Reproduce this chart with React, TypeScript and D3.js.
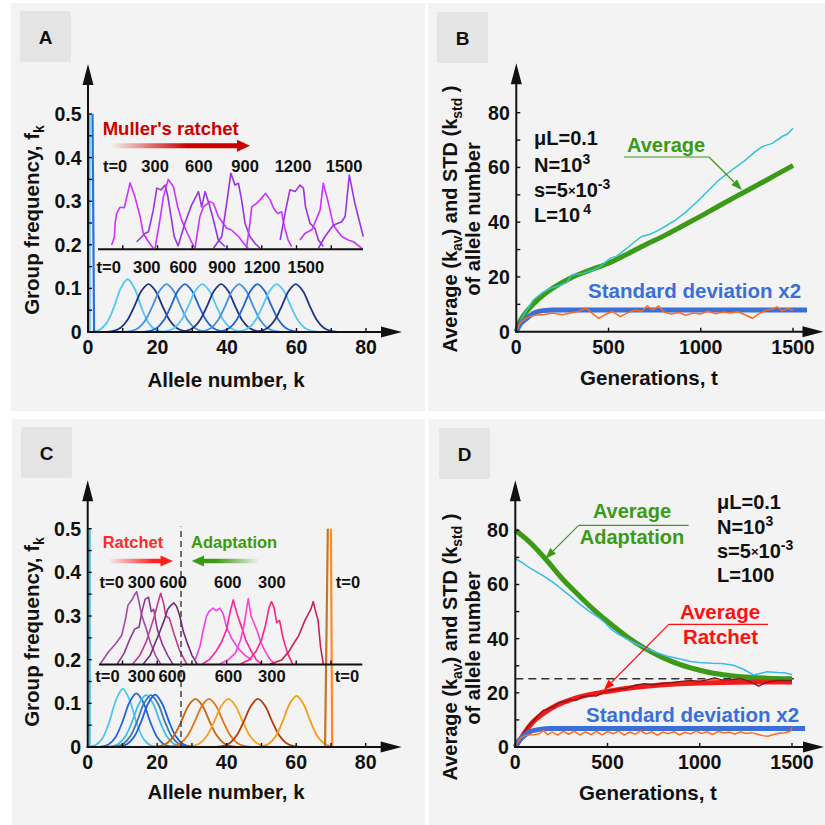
import React from 'react';
import * as d3 from 'd3';

const FONT = "'Liberation Sans', Arial, Helvetica, sans-serif";

// ---------------- Panel A data ----------------
const A_Y_TICKS = [0, 0.1, 0.2, 0.3, 0.4, 0.5];
const A_Y_MINOR = [0.05, 0.1, 0.15, 0.2, 0.25, 0.3, 0.35, 0.4, 0.45, 0.5];
const A_X_TICKS = [0, 20, 40, 60, 80];
const A_X_MINOR = [10, 20, 30, 40, 50, 60, 70, 80];
const INSET_TICKS = [10, 20, 30, 40, 50, 60, 70];

const DIST_OFFSETS = [-12, -10, -8, -6, -4, -2, 0, 2, 4, 6, 8, 10, 12];
const A_DIST_CENTERS = [11.4, 17.4, 22.6, 27.9, 32.9, 38.3, 43.5, 48.8, 54.3, 59.8];
const A_DIST_COLORS = ['#55c6f4', '#1d3582', '#4590e4', '#2264d4', '#55c6f4', '#1d3582', '#4590e4', '#2264d4', '#55c6f4', '#1d3582'];
const A_DIST_F = [
  [0.0001, 0.0009, 0.0053, 0.0209, 0.0554, 0.0996, 0.121, 0.0996, 0.0554, 0.0209, 0.0053, 0.0009, 0.0001],
  [0.0004, 0.0025, 0.0097, 0.028, 0.06, 0.0945, 0.11, 0.0945, 0.06, 0.028, 0.0097, 0.0025, 0.0004],
  [0.0004, 0.0025, 0.0097, 0.028, 0.06, 0.0945, 0.11, 0.0945, 0.06, 0.028, 0.0097, 0.0025, 0.0004],
  [0.0004, 0.0025, 0.0097, 0.028, 0.06, 0.0945, 0.11, 0.0945, 0.06, 0.028, 0.0097, 0.0025, 0.0004],
  [0.0004, 0.0025, 0.0097, 0.028, 0.06, 0.0945, 0.11, 0.0945, 0.06, 0.028, 0.0097, 0.0025, 0.0004],
  [0.0004, 0.0025, 0.0097, 0.028, 0.06, 0.0945, 0.11, 0.0945, 0.06, 0.028, 0.0097, 0.0025, 0.0004],
  [0.0004, 0.0025, 0.0097, 0.028, 0.06, 0.0945, 0.11, 0.0945, 0.06, 0.028, 0.0097, 0.0025, 0.0004],
  [0.0004, 0.0025, 0.0097, 0.028, 0.06, 0.0945, 0.11, 0.0945, 0.06, 0.028, 0.0097, 0.0025, 0.0004],
  [0.0004, 0.0025, 0.0097, 0.028, 0.06, 0.0945, 0.11, 0.0945, 0.06, 0.028, 0.0097, 0.0025, 0.0004],
  [0.0004, 0.0025, 0.0097, 0.028, 0.06, 0.0945, 0.11, 0.0945, 0.06, 0.028, 0.0097, 0.0025, 0.0004],
];
const A_SPIKE_K = [[0.45, 0.45], [1.3, 1.75]];
const A_SPIKE_F = [[0, 0.5], [0.5, 0]];
const A_SPIKE_COLORS = ['#4cc4f4', '#2a6ee0'];

const A_INSET_K = [
  [6.8, 7.6, 7.8, 8.25, 9.2, 10.45, 12.1, 13.5, 15.0, 15.9, 17.4, 18.8],
  [14.0, 16.4, 17.4, 18.8, 19.8, 21.0, 22.2, 22.9, 23.9, 24.8, 26.0],
  [19.3, 20.7, 21.7, 23.1, 24.6, 25.8, 27.1, 28.4, 30.0, 30.8],
  [26.0, 27.9, 29.8, 31.8, 32.7, 33.7, 34.8, 36.1, 37.5, 39.4],
  [30.8, 32.2, 33.2, 35.1, 36.1, 37.5, 38.9, 39.9, 41.3, 43.3, 45.2, 46.1],
  [36.1, 38.5, 39.9, 41.1, 42.3, 43.3, 44.2, 45.2, 46.6, 48.1, 49.5],
  [45.6, 46.6, 47.1, 48.5, 49.5, 51.1, 52.4, 53.4, 54.6, 55.7, 56.5, 57.6, 58.6],
  [55.3, 56.7, 58.1, 59.6, 61.0, 62.0, 62.6, 63.9, 65.3, 66.3, 67.7],
  [61.0, 62.4, 64.5, 66.8, 67.7, 69.2, 70.6, 73.0, 74.9, 76.4, 78.8],
  [66.3, 68.2, 70.6, 73.0, 74.0, 75.2, 76.8, 79.2],
];
const A_INSET_F = [
  [0.1995, 0.218, 0.249, 0.272, 0.286, 0.285, 0.342, 0.31, 0.265, 0.226, 0.207, 0.192],
  [0.207, 0.226, 0.23, 0.28, 0.33, 0.326, 0.337, 0.314, 0.265, 0.219, 0.196],
  [0.192, 0.257, 0.31, 0.35, 0.333, 0.287, 0.253, 0.23, 0.203, 0.192],
  [0.199, 0.25, 0.291, 0.322, 0.287, 0.322, 0.295, 0.257, 0.211, 0.196],
  [0.192, 0.265, 0.287, 0.299, 0.295, 0.265, 0.249, 0.238, 0.234, 0.219, 0.1995, 0.192],
  [0.192, 0.219, 0.295, 0.364, 0.337, 0.341, 0.303, 0.249, 0.219, 0.203, 0.192],
  [0.192, 0.249, 0.287, 0.295, 0.303, 0.318, 0.303, 0.284, 0.272, 0.276, 0.242, 0.211, 0.196],
  [0.211, 0.272, 0.326, 0.322, 0.337, 0.33, 0.287, 0.249, 0.238, 0.211, 0.196],
  [0.211, 0.226, 0.235, 0.28, 0.341, 0.295, 0.245, 0.219, 0.211, 0.207, 0.192],
  [0.192, 0.219, 0.245, 0.253, 0.265, 0.36, 0.295, 0.219],
];
const A_INSET_COLORS = ['#cc33ff', '#9933e6', '#cc33ff', '#9933e6', '#cc33ff', '#9933e6', '#cc33ff', '#9933e6', '#cc33ff', '#9933e6'];
const A_TOP_LABELS = ['t=0', '300', '600', '900', '1200', '1500'];
const A_TOP_LABEL_K = [7.8, 19.3, 31.9, 45.2, 59.0, 73.7];
const A_BOT_LABELS = ['t=0', '300', '600', '900', '1200', '1500'];
const A_BOT_LABEL_K = [5.96, 16.9, 27.4, 38.6, 50.1, 62.7];

// ---------------- Panel B data ----------------
const T_TICKS = [0, 500, 1000, 1500];
const V_TICKS = [0, 20, 40, 60, 80];
const V_MINOR = [10, 20, 30, 40, 50, 60, 70, 80];
const B_AVG_T = [0, 20, 50, 100, 150, 200, 300, 400, 500, 600, 700, 800, 900, 1000, 1100, 1200, 1300, 1400, 1500];
const B_AVG_V = [0, 3.7, 6.8, 10.6, 13.6, 16, 19.8, 22.5, 25, 28.3, 31.8, 35.0, 38.6, 42.2, 46, 49.7, 53.3, 57, 60.7];
const B_SIM_T = [0, 10, 25, 50, 92, 140, 183, 230, 273, 300, 363, 420, 454, 508, 544, 600, 635, 680, 725, 772, 815, 862, 917, 971, 1025, 1098, 1170, 1242, 1290, 1333, 1387, 1441, 1470, 1500];
const B_SIM_V = [0, 2.2, 4.2, 7.2, 11.6, 14.2, 15.8, 16.8, 17.9, 20.7, 21.3, 22.6, 23.8, 26.8, 27.6, 30.5, 32.5, 34.8, 35.6, 37.1, 38.8, 40.8, 43.6, 46.9, 50.5, 55.4, 59.1, 62.7, 65.5, 67.6, 68.8, 71.3, 72.2, 74.3];
const B_STD_T = [0, 20, 47, 92, 146, 200, 1576];
const B_STD_V = [0, 2.6, 4.3, 6.7, 7.7, 7.95, 7.95];
const B_STDSIM_T = [0, 15, 30, 50, 75, 100, 150, 200, 250, 300, 340, 380, 410, 447, 480, 520, 564, 600, 640, 680, 709, 740, 772, 800, 840, 880, 920, 960, 1000, 1040, 1080, 1120, 1160, 1200, 1240, 1279, 1310, 1350, 1390, 1414, 1440, 1470, 1500];
const B_STDSIM_V = [0, 2.5, 3.8, 4.8, 5.5, 6, 6.3, 6.8, 6.2, 6.9, 7.5, 8.6, 6.8, 4.9, 6.2, 7.4, 5.5, 6.8, 7.8, 7.5, 9.4, 8, 9.4, 7.2, 6.5, 7, 6, 6.8, 6.5, 7.5, 6.6, 7.2, 6.8, 7.3, 6.2, 4.9, 6.3, 7.8, 8.3, 9.1, 7.5, 8.5, 7.9];

// ---------------- Panel C data ----------------
const C_SPIKE_K = [[0.55, 0.55], [68.3, 69.1], [70.0, 70.35]];
const C_SPIKE_F = [[0, 0.5], [0, 0.5], [0.5, 0]];
const C_SPIKE_COLORS = ['#3cc0f0', '#c8761e', '#ff8a22'];
const C_DIST_CENTERS = [10.1, 14.0, 16.8, 18.2, 19.4, 31.0, 34.9, 40.5, 49.0, 60.1];
const C_DIST_COLORS = ['#4cc6f2', '#1f66e6', '#3cbdf0', '#3a7aa6', '#2060e0', '#c8640c', '#ea7212', '#f6a21c', '#b63c0e', '#f59c14'];
const C_DIST_F = [
  [0, 0.0005, 0.0038, 0.018, 0.0547, 0.1065, 0.133, 0.1065, 0.0547, 0.018, 0.0038, 0.0005, 0],
  [0.0001, 0.0011, 0.0059, 0.0224, 0.0577, 0.1017, 0.123, 0.1017, 0.0577, 0.0224, 0.0059, 0.0011, 0.0001],
  [0.0002, 0.0014, 0.0069, 0.0238, 0.0583, 0.0995, 0.119, 0.0995, 0.0583, 0.0238, 0.0069, 0.0014, 0.0002],
  [0.0002, 0.0014, 0.0069, 0.0238, 0.0583, 0.0995, 0.119, 0.0995, 0.0583, 0.0238, 0.0069, 0.0014, 0.0002],
  [0.0002, 0.0014, 0.0069, 0.0238, 0.0583, 0.0995, 0.12, 0.0995, 0.0583, 0.0238, 0.0069, 0.0014, 0.0002],
  [0.0004, 0.0025, 0.0097, 0.028, 0.06, 0.0945, 0.11, 0.0945, 0.06, 0.028, 0.0097, 0.0025, 0.0004],
  [0.0004, 0.0025, 0.0097, 0.028, 0.06, 0.0945, 0.11, 0.0945, 0.06, 0.028, 0.0097, 0.0025, 0.0004],
  [0.0004, 0.0025, 0.0097, 0.028, 0.06, 0.0945, 0.11, 0.0945, 0.06, 0.028, 0.0097, 0.0025, 0.0004],
  [0.0004, 0.0025, 0.0097, 0.028, 0.06, 0.0945, 0.11, 0.0945, 0.06, 0.028, 0.0097, 0.0025, 0.0004],
  [0.0002, 0.0015, 0.0073, 0.0246, 0.0585, 0.0984, 0.117, 0.0984, 0.0585, 0.0246, 0.0073, 0.0015, 0.0002],
];
const C_INSET_K = [
  [3.6, 6.0, 8.0, 9.8, 10.8, 11.6, 12.8, 13.6, 14.1, 14.7, 15.6, 16.8, 18.0, 19.5, 21.0],
  [8.5, 10.5, 12.0, 13.5, 14.8, 15.6, 16.5, 17.5, 18.3, 19.0, 20.0, 21.5, 23.0, 24.5],
  [13.0, 15.0, 16.8, 18.0, 19.2, 20.2, 21.0, 21.8, 22.5, 23.5, 24.8, 26.5, 28.5],
  [16.0, 18.0, 19.5, 20.8, 22.0, 23.0, 24.0, 24.8, 25.6, 26.5, 27.5, 28.8, 30.0, 31.5],
  [30.9, 32.3, 33.3, 34.2, 34.9, 36.1, 37.0, 38.0, 39.0, 39.9, 41.4, 43.3, 45.3, 47.2],
  [33.0, 35.0, 37.0, 38.5, 40.0, 41.0, 41.9, 42.8, 43.6, 44.5, 45.5, 47.0, 48.5, 50.0],
  [38.0, 40.5, 42.5, 44.0, 45.0, 45.6, 46.2, 47.0, 47.8, 48.8, 49.8, 51.0, 52.5, 54.0],
  [44.0, 46.5, 48.5, 50.0, 51.2, 52.2, 52.9, 53.6, 54.4, 55.2, 56.2, 57.5, 59.0],
  [52.5, 55.8, 58.0, 59.5, 60.6, 61.5, 62.5, 63.5, 64.2, 64.9, 65.6, 66.3, 67.0, 67.8],
];
const C_INSET_F = [
  [0.19, 0.218, 0.236, 0.256, 0.29, 0.325, 0.338, 0.35, 0.356, 0.335, 0.3, 0.272, 0.24, 0.21, 0.19],
  [0.19, 0.215, 0.245, 0.27, 0.275, 0.31, 0.338, 0.343, 0.31, 0.315, 0.27, 0.235, 0.21, 0.19],
  [0.19, 0.21, 0.24, 0.27, 0.3, 0.33, 0.352, 0.33, 0.3, 0.295, 0.26, 0.22, 0.19],
  [0.19, 0.21, 0.24, 0.265, 0.29, 0.315, 0.325, 0.33, 0.322, 0.3, 0.265, 0.235, 0.21, 0.19],
  [0.199, 0.23, 0.27, 0.3, 0.31, 0.318, 0.312, 0.318, 0.305, 0.276, 0.249, 0.226, 0.21, 0.199],
  [0.19, 0.2, 0.22, 0.24, 0.27, 0.31, 0.337, 0.31, 0.29, 0.27, 0.245, 0.22, 0.2, 0.19],
  [0.19, 0.2, 0.215, 0.245, 0.28, 0.31, 0.34, 0.3, 0.285, 0.265, 0.24, 0.22, 0.2, 0.19],
  [0.19, 0.2, 0.22, 0.245, 0.28, 0.32, 0.333, 0.32, 0.285, 0.29, 0.25, 0.215, 0.19],
  [0.19, 0.199, 0.22, 0.24, 0.253, 0.27, 0.29, 0.305, 0.315, 0.333, 0.31, 0.29, 0.23, 0.19],
];
const C_INSET_COLORS = ['#a04ca6', '#8e3a92', '#c8388e', '#742a7a', '#ee40ee', '#ff1e9a', '#ff40d0', '#ff2080', '#c8205c'];
const C_LABELS = ['t=0', '300', '600', '600', '300', 't=0'];
const C_TOP_LABEL_K = [6.9, 15.5, 24.6, 40.3, 53.0, 74.9];
const C_BOT_LABEL_K = [5.7, 15.5, 24.3, 40.5, 53.0, 74.6];
const C_BARRIER_K = 26.85;

// ---------------- Panel D data ----------------
const D_ADAPT_T = [0, 72, 163, 250, 344, 420, 497, 600, 705, 800, 886, 980, 1067, 1160, 1248, 1370, 1500];
const D_ADAPT_V = [80, 76, 69.5, 62.5, 56, 51, 46.5, 41, 36.3, 33, 30.6, 28.7, 27.3, 26.4, 25.8, 25.4, 25.2];
const D_ADAPTSIM_T = [0, 40, 72, 120, 163, 210, 253, 300, 344, 400, 452, 490, 524, 560, 597, 650, 705, 760, 820, 886, 950, 1000, 1067, 1120, 1182, 1240, 1291, 1330, 1364, 1420, 1460, 1500];
const D_ADAPTSIM_V = [69.5, 68, 66.4, 64.5, 62.7, 60.5, 58.2, 55.6, 53, 50.2, 47.8, 45.6, 43.2, 41.6, 40.2, 38.2, 36.6, 35, 33.6, 32.6, 31.6, 31.2, 30.9, 30.8, 30.2, 28.6, 26.6, 27.2, 27.8, 27.5, 27.4, 26.8];
const D_RATCHET_T = [0, 25, 61, 98, 152, 224, 315, 423, 497, 640, 821, 1002, 1183, 1350, 1500];
const D_RATCHET_V = [0, 2.6, 6.3, 9.4, 12.4, 15.4, 17.8, 19.6, 20.5, 22.0, 23.1, 23.6, 23.9, 24.0, 24.0];
const D_RATCHETSIM_T = [0, 20, 45, 70, 98, 125, 152, 180, 210, 240, 270, 300, 330, 360, 400, 440, 480, 520, 560, 600, 650, 700, 750, 800, 850, 900, 950, 1000, 1050, 1080, 1120, 1170, 1220, 1260, 1300, 1320, 1350, 1390, 1440, 1500];
const D_RATCHETSIM_V = [0, 2.4, 5.2, 7.6, 9.6, 11.8, 13.5, 14.2, 15.0, 16.5, 16.8, 17.6, 17.2, 18.5, 19.0, 18.8, 20.3, 21.0, 21.4, 21.6, 22.8, 23.4, 22.9, 23.6, 23.8, 24.2, 24.6, 24.2, 25.0, 25.5, 24.8, 24.9, 25.2, 24.5, 23.2, 22.4, 23.6, 24.3, 24.6, 24.4];
const D_STD_T = [0, 20, 43, 80, 134, 190, 1571];
const D_STD_V = [0, 2.4, 3.8, 5.7, 6.5, 6.8, 6.8];
const D_STDSIM_T = [0, 15, 30, 50, 70, 100, 130, 152, 175, 200, 230, 260, 290, 320, 350, 380, 410, 440, 470, 500, 530, 560, 590, 620, 650, 680, 710, 740, 770, 800, 830, 860, 890, 920, 950, 980, 1010, 1040, 1070, 1100, 1130, 1160, 1190, 1220, 1250, 1280, 1310, 1340, 1370, 1400, 1430, 1460, 1490, 1500];
const D_STDSIM_V = [0, 2.2, 3.4, 4.2, 4.4, 4.5, 4.9, 6.1, 4.6, 5.5, 4.4, 5.8, 4.7, 5.9, 4.5, 5.6, 4.6, 5.8, 4.5, 5.7, 4.9, 5.9, 4.4, 5.5, 4.7, 6.0, 4.8, 5.6, 4.4, 5.5, 4.9, 5.7, 4.5, 5.4, 4.8, 5.9, 5.0, 5.6, 4.6, 5.8, 5.2, 5.5, 4.7, 5.6, 5.0, 5.3, 4.8, 4.2, 4.0, 4.6, 5.1, 5.3, 5.8, 7.2];
const D_BARRIER_V = 25.2;

type Sc = d3.ScaleLinear<number, number>;

function linePath(xs: number[], ys: number[], xS: Sc, yS: Sc, curve: d3.CurveFactory = d3.curveLinear) {
  const pts = xs.map((x, i) => [x, ys[i]] as [number, number]).filter(p => p[0] >= 0);
  return d3.line<[number, number]>().x(d => xS(d[0])).y(d => yS(d[1])).curve(curve)(pts) || '';
}

const T = (props: any) => <text fontFamily={FONT} fontWeight="bold" {...props} />;

function Axes({ xS, yS, xTicks, xMinor, yTicks, yMinor, yFmt, xTip, yTip }: any) {
  const x0 = xS(0), y0 = yS(0);
  return (
    <g>
      {yMinor.map((v: number) => <line key={'ym' + v} x1={x0} x2={x0 + 4} y1={yS(v)} y2={yS(v)} stroke="#111" strokeWidth={1.4} />)}
      {xMinor.map((v: number) => <line key={'xm' + v} x1={xS(v)} x2={xS(v)} y1={y0} y2={y0 - 4} stroke="#111" strokeWidth={1.4} />)}
      <line x1={x0} y1={y0 + 1} x2={x0} y2={yTip + 12} stroke="#111" strokeWidth={2} />
      <line x1={x0 - 1} y1={y0} x2={xTip - 12} y2={y0} stroke="#111" strokeWidth={2} />
      <polygon points={`${x0},${yTip} ${x0 - 5.5},${yTip + 21} ${x0 + 5.5},${yTip + 21}`} fill="#111" />
      <polygon points={`${xTip},${y0} ${xTip - 21},${y0 - 5.5} ${xTip - 21},${y0 + 5.5}`} fill="#111" />
      {yTicks.map((v: number) => (
        <T key={'yl' + v} x={x0 - 6.5} y={yS(v)} dy="0.36em" textAnchor="end" fontSize={19.5} fill="#111">{yFmt(v)}</T>
      ))}
      {xTicks.map((v: number) => (
        <T key={'xl' + v} x={xS(v)} y={y0 + 22} textAnchor="middle" fontSize={19.5} fill="#111">{v}</T>
      ))}
    </g>
  );
}

function Pointer({ x1, y1, x2, y2, color }: any) {
  const a = Math.atan2(y2 - y1, x2 - x1);
  const L = 11, W = 4;
  const bx = x2 - L * Math.cos(a), by = y2 - L * Math.sin(a);
  const p1 = [bx + W * Math.sin(a), by - W * Math.cos(a)];
  const p2 = [bx - W * Math.sin(a), by + W * Math.cos(a)];
  return (
    <g>
      <line x1={x1} y1={y1} x2={bx} y2={by} stroke={color} strokeWidth={1.2} />
      <polygon points={`${x2},${y2} ${p1[0]},${p1[1]} ${p2[0]},${p2[1]}`} fill={color} />
    </g>
  );
}

function fatArrow(x1: number, hb: number, tip: number, y: number, t: number, h: number) {
  return `M${x1},${y - t / 2} L${hb},${y - t / 2} L${hb},${y - h} L${tip},${y} L${hb},${y + h} L${hb},${y + t / 2} L${x1},${y + t / 2} Z`;
}

const PANELS = [
  { x: 11, y: 3, w: 414, h: 408, label: 'A', lx: 20, ly: 11 },
  { x: 428, y: 3, w: 397, h: 408, label: 'B', lx: 437, ly: 12 },
  { x: 12, y: 419, w: 413, h: 406, label: 'C', lx: 21, ly: 427 },
  { x: 429, y: 419, w: 396, h: 406, label: 'D', lx: 439, ly: 428 },
];

export default function App() {
  // scales
  const axA = d3.scaleLinear().domain([0, 80]).range([88, 366]);
  const ayA = d3.scaleLinear().domain([0, 0.5]).range([332, 114]);
  const axC = d3.scaleLinear().domain([0, 80]).range([87.7, 365.7]);
  const ayC = d3.scaleLinear().domain([0, 0.5]).range([747, 528.7]);
  const bx = d3.scaleLinear().domain([0, 1500]).range([516.3, 793]);
  const by = d3.scaleLinear().domain([0, 80]).range([331.7, 112.7]);
  const dx = d3.scaleLinear().domain([0, 1500]).range([515.3, 792]);
  const dy = d3.scaleLinear().domain([0, 80]).range([747, 530.3]);
  const fmtF = (v: number) => (v === 0 ? '0' : d3.format('.1f')(v));
  const fmtV = (v: number) => String(v);
  const INSET_BASE = 0.19;

  return (
    <svg width={825} height={825} style={{ position: 'absolute', left: 0, top: 0, background: '#fff' }}>
      <defs>
        <linearGradient id="gMuller" gradientUnits="userSpaceOnUse" x1={110} x2={250} y1={0} y2={0}>
          <stop offset="0" stopColor="#cc0000" stopOpacity={0} />
          <stop offset="0.55" stopColor="#cc0000" stopOpacity={1} />
          <stop offset="1" stopColor="#cc0000" stopOpacity={1} />
        </linearGradient>
        <linearGradient id="gRatchet" gradientUnits="userSpaceOnUse" x1={108} x2={173} y1={0} y2={0}>
          <stop offset="0" stopColor="#ff2020" stopOpacity={0} />
          <stop offset="0.7" stopColor="#ff2020" stopOpacity={1} />
          <stop offset="1" stopColor="#ff2020" stopOpacity={1} />
        </linearGradient>
        <linearGradient id="gAdapt" gradientUnits="userSpaceOnUse" x1={192} x2={260} y1={0} y2={0}>
          <stop offset="0" stopColor="#3a9a10" stopOpacity={1} />
          <stop offset="0.35" stopColor="#3a9a10" stopOpacity={1} />
          <stop offset="1" stopColor="#3a9a10" stopOpacity={0} />
        </linearGradient>
      </defs>

      {PANELS.map(p => (
        <g key={p.label}>
          <rect x={p.x} y={p.y} width={p.w} height={p.h} fill="#f3f3f3" />
          <rect x={p.lx} y={p.ly} width={51} height={51} rx={2} fill="#e4e4e4" />
          <T x={p.lx + 25.5} y={p.ly + 26} dy="0.36em" textAnchor="middle" fontSize={19} fill="#111">{p.label}</T>
        </g>
      ))}

      {/* ================= Panel A ================= */}
      <g>
        {A_DIST_F.map((fs, i) => (
          <path key={'ad' + i} d={linePath(DIST_OFFSETS.map(o => o + A_DIST_CENTERS[i]), fs, axA, ayA, d3.curveCatmullRom)}
            fill="none" stroke={A_DIST_COLORS[i]} strokeWidth={1.8} />
        ))}
        {A_SPIKE_K.map((ks, i) => (
          <path key={'as' + i} d={linePath(ks, A_SPIKE_F[i], axA, ayA)} fill="none" stroke={A_SPIKE_COLORS[i]} strokeWidth={2.2} />
        ))}
        {A_INSET_K.map((ks, i) => (
          <path key={'ai' + i} d={linePath(ks, A_INSET_F[i], axA, ayA)} fill="none" stroke={A_INSET_COLORS[i]} strokeWidth={1.6} strokeLinejoin="round" />
        ))}
        <line x1={98} x2={363} y1={ayA(INSET_BASE)} y2={ayA(INSET_BASE)} stroke="#111" strokeWidth={2} />
        {INSET_TICKS.map(k => (
          <line key={'ait' + k} x1={axA(k)} x2={axA(k)} y1={ayA(INSET_BASE)} y2={ayA(INSET_BASE) - 4} stroke="#111" strokeWidth={1.4} />
        ))}
        <Axes xS={axA} yS={ayA} xTicks={A_X_TICKS} xMinor={A_X_MINOR} yTicks={A_Y_TICKS} yMinor={A_Y_MINOR} yFmt={fmtF} xTip={402} yTip={64} />
        {A_TOP_LABELS.map((s, i) => (
          <T key={'atl' + i} x={axA(A_TOP_LABEL_K[i])} y={ayA(0.367)} textAnchor="middle" fontSize={16.5} fill="#111">{s}</T>
        ))}
        {A_BOT_LABELS.map((s, i) => (
          <T key={'abl' + i} x={axA(A_BOT_LABEL_K[i])} y={ayA(0.1346)} textAnchor="middle" fontSize={16.5} fill="#111">{s}</T>
        ))}
        <T x={102.7} y={135} fontSize={18.5} fill="#cc0000">Muller's ratchet</T>
        <path d={fatArrow(110, 237, 250, 145.7, 5, 6)} fill="url(#gMuller)" />
        <T x={226} y={387} textAnchor="middle" fontSize={20.5} fill="#111">Allele number, k</T>
        <T transform="translate(39,220) rotate(-90)" textAnchor="middle" fontSize={20.5} fill="#111">
          Group frequency, f<tspan fontSize={14} dy={5}>k</tspan>
        </T>
      </g>

      {/* ================= Panel B ================= */}
      <g>
        <path d={linePath(B_AVG_T, B_AVG_V, bx, by, d3.curveMonotoneX)} fill="none" stroke="#3c9a16" strokeWidth={5} />
        <path d={linePath(B_SIM_T, B_SIM_V, bx, by)} fill="none" stroke="#33c6cf" strokeWidth={1.5} />
        <path d={linePath(B_STD_T, B_STD_V, bx, by, d3.curveMonotoneX)} fill="none" stroke="#3a6fd8" strokeWidth={5} />
        <path d={linePath(B_STDSIM_T, B_STDSIM_V, bx, by)} fill="none" stroke="#ff6a1a" strokeWidth={1.5} />
        <Axes xS={bx} yS={by} xTicks={T_TICKS} xMinor={T_TICKS.slice(1)} yTicks={V_TICKS} yMinor={V_MINOR} yFmt={fmtV} xTip={823.5} yTip={63.3} />
        <T x={534} y={145} fontSize={20} fill="#111">μL=0.1</T>
        <T x={534} y={171.7} fontSize={20} fill="#111">N=10<tspan fontSize={14} dy={-8}>3</tspan></T>
        <T x={534} y={196.7} fontSize={20} fill="#111">s=5<tspan fontSize={13} dy={-2}>×</tspan><tspan dy={2}>10</tspan><tspan fontSize={14} dy={-8}>-3</tspan></T>
        <T x={534} y={221.7} fontSize={20} fill="#111">L=10<tspan fontSize={14} dx={3} dy={-8}>4</tspan></T>
        <T x={627} y={152} fontSize={20} fill="#3a9a1a">Average</T>
        <line x1={624} x2={709} y1={157} y2={157} stroke="#3a9a1a" strokeWidth={1.2} />
        <Pointer x1={709} y1={157} x2={742} y2={190} color="#3a9a1a" />
        <T x={588} y={298} fontSize={20.5} fill="#3a6fd8">Standard deviation x2</T>
        <T x={649} y={385} textAnchor="middle" fontSize={20.5} fill="#111">Generations, t</T>
        <T transform="translate(457,219) rotate(-90)" textAnchor="middle" fontSize={20} fill="#111">
          Average (k<tspan fontSize={14} dy={5}>av</tspan><tspan dy={-5}>) and STD (k</tspan><tspan fontSize={14} dy={5}>std</tspan><tspan dy={-5}> )</tspan>
        </T>
        <T transform="translate(480,219) rotate(-90)" textAnchor="middle" fontSize={20} fill="#111">of allele number</T>
      </g>

      {/* ================= Panel C ================= */}
      <g>
        {C_DIST_F.map((fs, i) => (
          <path key={'cd' + i} d={linePath(DIST_OFFSETS.map(o => o + C_DIST_CENTERS[i]), fs, axC, ayC, d3.curveCatmullRom)}
            fill="none" stroke={C_DIST_COLORS[i]} strokeWidth={1.8} />
        ))}
        {C_INSET_K.map((ks, i) => (
          <path key={'ci' + i} d={linePath(ks, C_INSET_F[i], axC, ayC)} fill="none" stroke={C_INSET_COLORS[i]} strokeWidth={1.6} strokeLinejoin="round" />
        ))}
        {C_SPIKE_K.map((ks, i) => (
          <path key={'cs' + i} d={linePath(ks, C_SPIKE_F[i], axC, ayC)} fill="none" stroke={C_SPIKE_COLORS[i]} strokeWidth={2.2} />
        ))}
        <line x1={99} x2={362.3} y1={ayC(0.189)} y2={ayC(0.189)} stroke="#111" strokeWidth={2} />
        {INSET_TICKS.map(k => (
          <line key={'cit' + k} x1={axC(k)} x2={axC(k)} y1={ayC(0.189)} y2={ayC(0.189) - 4} stroke="#111" strokeWidth={1.4} />
        ))}
        <line x1={axC(C_BARRIER_K)} x2={axC(C_BARRIER_K)} y1={ayC(0)} y2={ayC(0.505)} stroke="#444" strokeWidth={1.5} strokeDasharray="6,4" />
        <Axes xS={axC} yS={ayC} xTicks={A_X_TICKS} xMinor={A_X_MINOR} yTicks={A_Y_TICKS} yMinor={A_Y_MINOR} yFmt={fmtF} xTip={401.7} yTip={480.3} />
        {C_LABELS.map((s, i) => (
          <T key={'ctl' + i} x={axC(C_TOP_LABEL_K[i])} y={ayC(0.364)} textAnchor="middle" fontSize={16.5} fill="#111">{s}</T>
        ))}
        {C_LABELS.map((s, i) => (
          <T key={'cbl' + i} x={axC(C_BOT_LABEL_K[i])} y={ayC(0.148)} textAnchor="middle" fontSize={16.5} fill="#111">{s}</T>
        ))}
        <T x={102.7} y={548} fontSize={16.5} fill="#ff2a2a">Ratchet</T>
        <T x={191} y={548} fontSize={16.5} fill="#3a9a10">Adaptation</T>
        <path d={fatArrow(108, 160.5, 173, 561, 4.5, 5.5)} fill="url(#gRatchet)" />
        <path d={fatArrow(260, 204, 191.7, 561, 4.5, 5.5)} fill="url(#gAdapt)" />
        <T x={226} y={798.7} textAnchor="middle" fontSize={20.5} fill="#111">Allele number, k</T>
        <T transform="translate(39,632) rotate(-90)" textAnchor="middle" fontSize={20.5} fill="#111">
          Group frequency, f<tspan fontSize={14} dy={5}>k</tspan>
        </T>
      </g>

      {/* ================= Panel D ================= */}
      <g>
        <line x1={dx(0)} x2={dx(1510)} y1={dy(D_BARRIER_V)} y2={dy(D_BARRIER_V)} stroke="#333" strokeWidth={1.5} strokeDasharray="8,5" />
        <path d={linePath(D_ADAPT_T, D_ADAPT_V, dx, dy, d3.curveMonotoneX)} fill="none" stroke="#3c9a16" strokeWidth={5} />
        <path d={linePath(D_ADAPTSIM_T, D_ADAPTSIM_V, dx, dy)} fill="none" stroke="#3cb9f0" strokeWidth={1.5} />
        <path d={linePath(D_RATCHET_T, D_RATCHET_V, dx, dy, d3.curveMonotoneX)} fill="none" stroke="#f51a1a" strokeWidth={5} />
        <path d={linePath(D_RATCHETSIM_T, D_RATCHETSIM_V, dx, dy)} fill="none" stroke="#7a1a1a" strokeWidth={1.3} />
        <path d={linePath(D_STD_T, D_STD_V, dx, dy, d3.curveMonotoneX)} fill="none" stroke="#3a6fd8" strokeWidth={5} />
        <path d={linePath(D_STDSIM_T, D_STDSIM_V, dx, dy)} fill="none" stroke="#ff6a1a" strokeWidth={1.5} />
        <Axes xS={dx} yS={dy} xTicks={T_TICKS} xMinor={T_TICKS.slice(1)} yTicks={V_TICKS} yMinor={V_MINOR} yFmt={fmtV} xTip={824} yTip={480.3} />
        <T x={717} y={508.7} fontSize={20} fill="#111">μL=0.1</T>
        <T x={717} y={533.7} fontSize={20} fill="#111">N=10<tspan fontSize={14} dy={-8}>3</tspan></T>
        <T x={717} y={558} fontSize={20} fill="#111">s=5<tspan fontSize={13} dy={-2}>×</tspan><tspan dy={2}>10</tspan><tspan fontSize={14} dy={-8}>-3</tspan></T>
        <T x={717} y={582} fontSize={20} fill="#111">L=100</T>
        <T x={632} y={518} textAnchor="middle" fontSize={20} fill="#3a9a1a">Average</T>
        <T x={632} y={543.7} textAnchor="middle" fontSize={20} fill="#3a9a1a">Adaptation</T>
        <line x1={578.7} x2={688.7} y1={525.3} y2={525.3} stroke="#3a9a1a" strokeWidth={1.2} />
        <Pointer x1={578.7} y1={525.3} x2={545.3} y2={558.7} color="#3a9a1a" />
        <T x={720} y={618.7} textAnchor="middle" fontSize={20.5} fill="#ff1010">Average</T>
        <T x={720.5} y={643.7} textAnchor="middle" fontSize={20.5} fill="#ff1010">Ratchet</T>
        <line x1={668.7} x2={768} y1={624.3} y2={624.3} stroke="#ff1010" strokeWidth={1.2} />
        <Pointer x1={668.7} y1={624.3} x2={603.7} y2={690.3} color="#ff1010" />
        <T x={586} y={722} fontSize={20.5} fill="#3a6fd8">Standard deviation x2</T>
        <T x={648} y={800.3} textAnchor="middle" fontSize={20.5} fill="#111">Generations, t</T>
        <T transform="translate(457,647) rotate(-90)" textAnchor="middle" fontSize={20} fill="#111">
          Average (k<tspan fontSize={14} dy={5}>av</tspan><tspan dy={-5}>) and STD (k</tspan><tspan fontSize={14} dy={5}>std</tspan><tspan dy={-5}> )</tspan>
        </T>
        <T transform="translate(480,648) rotate(-90)" textAnchor="middle" fontSize={20} fill="#111">of allele number</T>
      </g>
    </svg>
  );
}
